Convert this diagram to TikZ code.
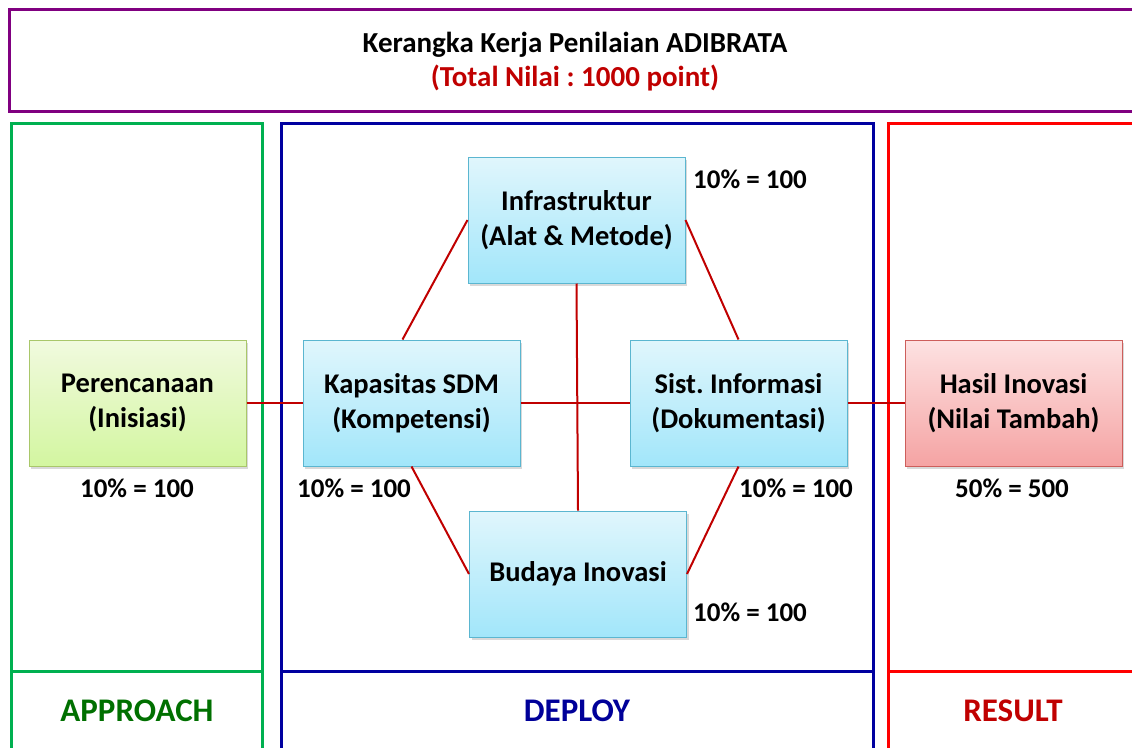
\documentclass[tikz,border=0pt]{standalone}
\usepackage{fontspec}
\setmainfont{Carlito}
\frenchspacing
\usetikzlibrary{shadows}
\definecolor{ungu}{HTML}{800080}
\definecolor{hijauTepi}{HTML}{00B050}
\definecolor{biruTepi}{HTML}{0000A0}
\definecolor{merahTepi}{HTML}{FF0000}
\definecolor{merahTua}{HTML}{C00000}
\definecolor{hijauTua}{HTML}{007000}
\definecolor{biruTua}{HTML}{000099}
\definecolor{garisMerah}{HTML}{C00000}
\definecolor{biruAtas}{HTML}{E0F6FC}
\definecolor{biruBawah}{HTML}{A2E6FA}
\definecolor{biruGaris}{HTML}{5BB6D0}
\definecolor{hijauAtas}{HTML}{F1FADF}
\definecolor{hijauBawah}{HTML}{D3F6A0}
\definecolor{hijauGaris}{HTML}{A9C76A}
\definecolor{merahAtas}{HTML}{FDE2E2}
\definecolor{merahBawah}{HTML}{F5A3A3}
\definecolor{merahGaris}{HTML}{CD5E5B}
\begin{document}
\begin{tikzpicture}[x=1pt,y=-1pt]
\tikzset{kotak/.style={draw, line width=1pt, minimum width=217pt, minimum height=126pt, align=center, font=\fontsize{28.5}{35}\selectfont\bfseries, drop shadow={opacity=0.3, shadow xshift=2pt, shadow yshift=-3pt}},
  kotakbiru/.style={kotak, draw=biruGaris, top color=biruAtas, bottom color=biruBawah},
  kotakhijau/.style={kotak, draw=hijauGaris, top color=hijauAtas, bottom color=hijauBawah},
  kotakmerah/.style={kotak, draw=merahGaris, top color=merahAtas, bottom color=merahBawah},
  judulteks/.style={font=\fontsize{29}{33}\selectfont\bfseries},
  nilai/.style={font=\fontsize{27}{30}\selectfont\bfseries},
  fase/.style={font=\fontsize{33}{38}\selectfont\bfseries},
  garis/.style={draw=garisMerah, line width=2pt}}
\useasboundingbox (0,0) rectangle (1132,747);
\clip (0,0) rectangle (1132,747);
\draw[ungu, line width=3pt] (9,9) rectangle (1150,111);
\node[judulteks] (judul) at (575,45) {Kerangka Kerja Penilaian ADIBRATA};
\node[judulteks, text=merahTua] (total) at (575,78) {(Total Nilai : 1000 point)};
\draw[hijauTepi, line width=3pt] (11,123) rectangle (262,760) (11,671) -- (262,671);
\draw[biruTepi, line width=3pt] (281,123) rectangle (873,760) (281,671) -- (873,671);
\draw[merahTepi, line width=3pt] (888,123) rectangle (1150,760) (888,671) -- (1150,671);
\node[fase, text=hijauTua] (approach) at (137,711) {APPROACH};
\node[fase, text=biruTua] (deploy) at (577,711) {DEPLOY};
\node[fase, text=merahTua] (result) at (1013,711) {RESULT};
\node[kotakhijau] (P) at (137.5,403) {Perencanaan\\(Inisiasi)};
\node[kotakbiru] (K) at (411.5,403) {Kapasitas SDM\\(Kompetensi)};
\node[kotakbiru] (S) at (738.5,403) {Sist. Informasi\\(Dokumentasi)};
\node[kotakmerah] (H) at (1013.5,403) {Hasil Inovasi\\(Nilai Tambah)};
\node[kotakbiru] (I) at (576.5,220) {Infrastruktur\\(Alat \& Metode)};
\node[kotakbiru] (B) at (578,574) {Budaya Inovasi};
\draw[garis] (P.east) -- (K.west);
\draw[garis] (K.east) -- (S.west);
\draw[garis] (S.east) -- (H.west);
\draw[garis] (I.south) -- (B.north);
\draw[garis] (I.west) -- ([xshift=-9pt]K.north);
\draw[garis] (I.east) -- (S.north);
\draw[garis] (K.south) -- (B.west);
\draw[garis] (B.east) -- (S.south);
\node[nilai] (nP) at (137,488) {10\% = 100};
\node[nilai] (nK) at (354,488) {10\% = 100};
\node[nilai] (nS) at (796,488) {10\% = 100};
\node[nilai] (nH) at (1012,488) {50\% = 500};
\node[nilai] (nI) at (750,179) {10\% = 100};
\node[nilai] (nB) at (750,612) {10\% = 100};
\end{tikzpicture}
\end{document}
